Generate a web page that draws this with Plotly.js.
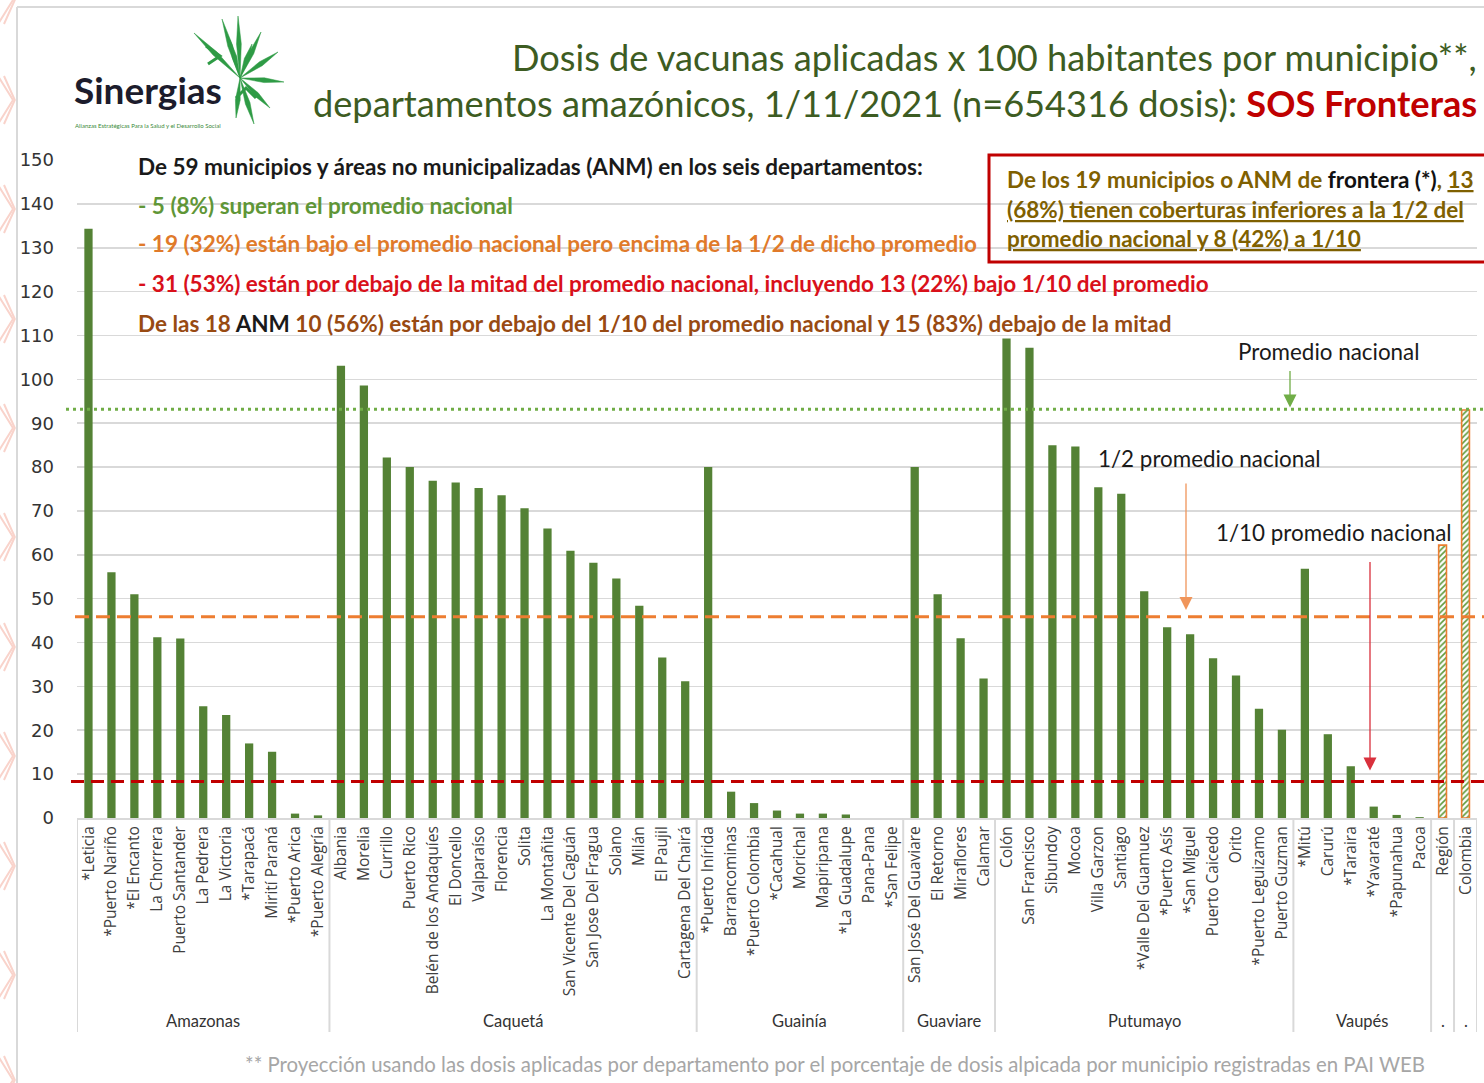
<!DOCTYPE html>
<html>
<head>
<meta charset="utf-8">
<script src="https://cdn.plot.ly/plotly-3.0.1.min.js"></script>
<style>html,body{margin:0;padding:0;background:#fff;}#chart{width:1484px;height:1083px;}</style>
</head>
<body>
<div id="chart"></div>
<script>
// ---------------- DATA ----------------
const amazonasNames = ['*Leticia','*Puerto Nariño','*El Encanto','La Chorrera','Puerto Santander','La Pedrera','La Victoria','*Tarapacá','Mirití Paraná','*Puerto Arica','*Puerto Alegría'];
const amazonasValues = [134.3,56.0,51.0,41.2,40.9,25.5,23.5,17.0,15.1,1.0,0.6];
const caquetaNames = ['Albania','Morelia','Currillo','Puerto Rico','Belén de los Andaquíes','El Doncello','Valparaíso','Florencia','Solita','La Montañita','San Vicente Del Caguán','San Jose Del Fragua','Solano','Milán','El Paujil','Cartagena Del Chairá'];
const caquetaValues = [103.1,98.6,82.2,80.0,76.9,76.5,75.2,73.6,70.6,66.0,60.9,58.2,54.6,48.4,36.6,31.2];
const guainiaNames = ['*Puerto Inírida','Barrancominas','*Puerto Colombia','*Cacahual','Morichal','Mapiripana','*La Guadalupe','Pana-Pana','*San Felipe'];
const guainiaValues = [80.0,6.0,3.4,1.7,1.0,1.0,0.8,0,0];
const guaviareNames = ['San José Del Guaviare','El Retorno','Miraflores','Calamar'];
const guaviareValues = [80.0,51.0,41.0,31.8];
const putumayoNames = ['Colón','San Francisco','Sibundoy','Mocoa','Villa Garzon','Santiago','*Valle Del Guamuez','*Puerto Asís','*San Miguel','Puerto Caicedo','Orito','*Puerto Leguizamo','Puerto Guzman'];
const putumayoValues = [109.3,107.2,85.0,84.7,75.4,73.9,51.7,43.5,41.9,36.4,32.5,24.9,20.1];
const vaupesNames = ['*Mitú','Carurú','*Taraira','*Yavaraté','*Papunahua','Pacoa'];
const vaupesValues = [56.8,19.1,11.8,2.6,0.7,0.2];
const resumenNames = ['Región','Colombia'];
const resumenValues = [62.2,93.0];

const groupLabels = ['Amazonas','Caquetá','Guainía','Guaviare','Putumayo','Vaupés','.','.'];
const groupNames = [amazonasNames,caquetaNames,guainiaNames,guaviareNames,putumayoNames,vaupesNames,['Región'],['Colombia']];

const promedioNacional = 93.2;
const mitadPromedio = 45.9;
const decimoPromedio = 8.3;

const yTicks = [0,10,20,30,40,50,60,70,80,90,100,110,120,130,140,150];

// ---------------- LAYOUT HELPERS ----------------
const FW = 1484, FH = 1083;
const M = {l:77, r:7, t:160, b:265};
const PW = FW - M.l - M.r, PH = FH - M.t - M.b;
const px = x => (x - M.l) / PW;
const py = y => (FH - M.b - y) / PH;

const municipioNames = [].concat(amazonasNames,caquetaNames,guainiaNames,guaviareNames,putumayoNames,vaupesNames);
const municipioValues = [].concat(amazonasValues,caquetaValues,guainiaValues,guaviareValues,putumayoValues,vaupesValues);

const GREEN = '#548235';
const traces = [
  {type:'bar', x:municipioNames, y:municipioValues, marker:{color:GREEN}, width:0.36, hoverinfo:'x+y'},
  {type:'bar', x:resumenNames, y:resumenValues, width:0.34,
   marker:{color:'#ffffff', pattern:{shape:'/', fgcolor:'#5f9a3a', bgcolor:'#ffffff', size:4, solidity:0.4},
           line:{color:'#ed7d31', width:1.6}}, hoverinfo:'x+y'}
];

const shapes = [];
const annotations = [];

// frame of the slide
shapes.push({type:'line', xref:'paper', yref:'paper', x0:px(17), x1:px(1490), y0:py(7), y1:py(7), line:{color:'#d9d9d9', width:2}, layer:'below'});
shapes.push({type:'line', xref:'paper', yref:'paper', x0:px(17), x1:px(17), y0:py(7), y1:py(1090), line:{color:'#d9d9d9', width:2}, layer:'below'});

// pink chevrons on left edge
[0, 100, 209, 319, 428, 537, 647, 756, 866, 975, 1080].forEach(cy => {
  [0, 6].forEach(off => {
    shapes.push({type:'path', xref:'paper', yref:'paper',
      path:`M ${px(-2+off)},${py(cy-24)} L ${px(13+off*0.3)},${py(cy)} L ${px(-2+off)},${py(cy+24)}`,
      line:{color:'#f9d3cb', width:2}, layer:'below'});
  });
});

// group dividers and labels
let idx = 0;
const divs = [-0.5];
groupNames.forEach((g, i) => {
  const mid = idx + (g.length - 1) / 2;
  annotations.push({xref:'x', yref:'paper', x:mid, y:py(1021), text:groupLabels[i], showarrow:false,
    font:{family:'Lato, Open Sans, sans-serif', size:16.5, color:'#333333'}, xanchor:'center', yanchor:'middle'});
  idx += g.length;
  divs.push(idx - 0.5);
});
divs.forEach(d => shapes.push({type:'line', xref:'x', yref:'paper', x0:d, x1:d, y0:0, y1:py(1032), line:{color:'#d9d9d9', width:2}}));

// reference lines
shapes.push({type:'line', xref:'paper', yref:'y', x0:px(66), x1:px(1490), y0:promedioNacional, y1:promedioNacional, line:{color:'#70ad47', width:3, dash:'3px,4px'}});
shapes.push({type:'line', xref:'paper', yref:'y', x0:px(75), x1:px(1490), y0:mitadPromedio, y1:mitadPromedio, line:{color:'#ed7d31', width:3, dash:'14px,7px'}});
shapes.push({type:'line', xref:'paper', yref:'y', x0:px(71), x1:px(1490), y0:decimoPromedio, y1:decimoPromedio, line:{color:'#c00000', width:3, dash:'13px,7px'}});

// red box
shapes.push({type:'rect', xref:'paper', yref:'paper', x0:px(989), x1:px(1495), y0:py(155), y1:py(262), line:{color:'#c00000', width:3}});

// logo leaves
const LC = '#2e9b45';
function leaf(x0, y0, x1, y1, w) {
  const dx = x1 - x0, dy = y1 - y0, L = Math.hypot(dx, dy);
  const nx = -dy / L * w, ny = dx / L * w;
  const mx = x0 + dx * 0.55, my = y0 + dy * 0.55;
  return `M ${px(x0)},${py(y0)} L ${px(mx+nx)},${py(my+ny)} L ${px(x1)},${py(y1)} L ${px(mx-nx)},${py(my-ny)} Z`;
}
const cx = 240, cy = 78;
[[194,33],[222,19],[238,16],[261,32],[278,52],[284,82],[270,108],[254,124],[236,118],[230,40],[252,44]].forEach(t => {
  shapes.push({type:'path', xref:'paper', yref:'paper', path:leaf(cx, cy, t[0], t[1], 2.4), fillcolor:LC, line:{color:LC, width:0.5}});
});
shapes.push({type:'path', xref:'paper', yref:'paper', path:`M ${px(236)},${py(98)} L ${px(246)},${py(88)} L ${px(256)},${py(98)}`, line:{color:LC, width:3}});
shapes.push({type:'path', xref:'paper', yref:'paper', path:`M ${px(206)},${py(46)} L ${px(220)},${py(56)} L ${px(208)},${py(64)}`, line:{color:LC, width:3}});

annotations.push({xref:'paper', yref:'paper', x:px(148), y:py(90), text:'<b>Sinergias</b>', showarrow:false,
  font:{family:'Lato, sans-serif', size:37, color:'#1c1c2c'}, xanchor:'center', yanchor:'middle'});
annotations.push({xref:'paper', yref:'paper', x:px(148), y:py(125), text:'Alianzas Estratégicas Para la Salud y el Desarrollo Social', showarrow:false,
  font:{family:'Liberation Sans Narrow, Lato, sans-serif', size:6, color:'#3a8a3a'}, xanchor:'center', yanchor:'middle'});

// title
const TF = {family:'Lato, sans-serif', size:36.2, color:'#3d5c22'};
annotations.push({xref:'paper', yref:'paper', x:px(1479), y:py(57), text:'Dosis de vacunas aplicadas x 100 habitantes por municipio**,', showarrow:false, font:TF, xanchor:'right', yanchor:'middle'});
annotations.push({xref:'paper', yref:'paper', x:px(1479), y:py(103), text:'departamentos amazónicos, 1/11/2021 (n=654316 dosis): <b><span style="color:#c00000">SOS Fronteras</span></b>', showarrow:false, font:TF, xanchor:'right', yanchor:'middle'});

// summary text block
const BF = (c) => ({family:'Lato, sans-serif', size:22.5, color:c});
const blockLines = [
  [166, '<b>De 59 municipios y áreas no municipalizadas (ANM) en los seis departamentos:</b>', '#1a1a1a'],
  [205, '<b>- 5 (8%) superan el promedio nacional</b>', '#5f9637'],
  [243, '<b>- 19 (32%) están bajo el promedio nacional pero encima de la 1/2 de dicho promedio</b>', '#e07a2a'],
  [283, '<b>- 31 (53%) están por debajo de la mitad del promedio nacional, incluyendo 13 (22%) bajo 1/10 del promedio</b>', '#d9101a'],
  [323, '<b>De las 18 <span style="color:#1a1a1a">ANM</span> 10 (56%) están por debajo del 1/10 del promedio nacional y 15 (83%) debajo de la mitad</b>', '#984a12']
];
blockLines.forEach(l => annotations.push({xref:'paper', yref:'paper', x:px(136), y:py(l[0]), text:l[1], showarrow:false, font:BF(l[2]), xanchor:'left', yanchor:'middle'}));

const boxLines = [
  [179, '<b>De los 19 municipios o ANM de <span style="color:#111">frontera (*)</span>, <u>13</u></b>'],
  [209, '<b><u>(68%) tienen coberturas inferiores a la 1/2 del</u></b>'],
  [238, '<b><u>promedio nacional y 8 (42%) a 1/10</u></b>']
];
boxLines.forEach(l => annotations.push({xref:'paper', yref:'paper', x:px(1005), y:py(l[0]), text:l[1], showarrow:false, font:BF('#7f6000'), xanchor:'left', yanchor:'middle'}));

// reference line labels and arrows
const RF = {family:'Lato, sans-serif', size:22.4, color:'#1a1a1a'};
annotations.push({xref:'paper', yref:'paper', x:px(1236), y:py(351), text:'Promedio nacional', showarrow:false, font:RF, xanchor:'left', yanchor:'middle'});
annotations.push({xref:'paper', yref:'paper', x:px(1096), y:py(458), text:'1/2 promedio nacional', showarrow:false, font:RF, xanchor:'left', yanchor:'middle'});
annotations.push({xref:'paper', yref:'paper', x:px(1214), y:py(532), text:'1/10 promedio nacional', showarrow:false, font:RF, xanchor:'left', yanchor:'middle'});

annotations.push({xref:'paper', yref:'y', x:px(1290), y:promedioNacional + 0.4, ax:0, ay:-38, text:'', showarrow:true, arrowhead:2, arrowsize:2, arrowwidth:1.3, arrowcolor:'#70ad47', standoff:0});
annotations.push({xref:'paper', yref:'y', x:px(1186), y:mitadPromedio + 1.5, ax:0, ay:-128, text:'', showarrow:true, arrowhead:2, arrowsize:2, arrowwidth:1.3, arrowcolor:'#f0955a', standoff:0});
annotations.push({xref:'paper', yref:'y', x:px(1370), y:decimoPromedio + 2.5, ax:0, ay:-210, text:'', showarrow:true, arrowhead:2, arrowsize:2, arrowwidth:1.3, arrowcolor:'#d9303c', standoff:0});

// footnote
annotations.push({xref:'paper', yref:'paper', x:px(835), y:py(1064), text:'** Proyección usando las dosis aplicadas por departamento por el porcentaje de dosis alpicada por municipio registradas en PAI WEB', showarrow:false,
  font:{family:'Lato, sans-serif', size:20.4, color:'#a6a6a6'}, xanchor:'center', yanchor:'middle'});

const layout = {
  width:FW, height:FH,
  margin:M,
  paper_bgcolor:'#ffffff', plot_bgcolor:'#ffffff',
  showlegend:false,
  barmode:'overlay',
  xaxis:{type:'category', tickangle:-90, showgrid:false, showline:true, linecolor:'#d9d9d9', linewidth:2,
         ticks:'', automargin:false, tickfont:{family:'Open Sans, sans-serif', size:15.5, color:'#404040'},
         range:[-0.5, municipioNames.length + resumenNames.length - 0.5]},
  yaxis:{range:[0,150], tickvals:yTicks, showgrid:true, gridcolor:'#d9d9d9', gridwidth:1.6, zeroline:false,
         showline:false, ticks:'', automargin:false, ticklabelstandoff:22,
         tickfont:{family:'DejaVu Sans, sans-serif', size:18, color:'#333333'}},
  shapes:shapes,
  annotations:annotations
};

Plotly.newPlot('chart', traces, layout, {displayModeBar:false, staticPlot:true});
</script>
</body>
</html>
